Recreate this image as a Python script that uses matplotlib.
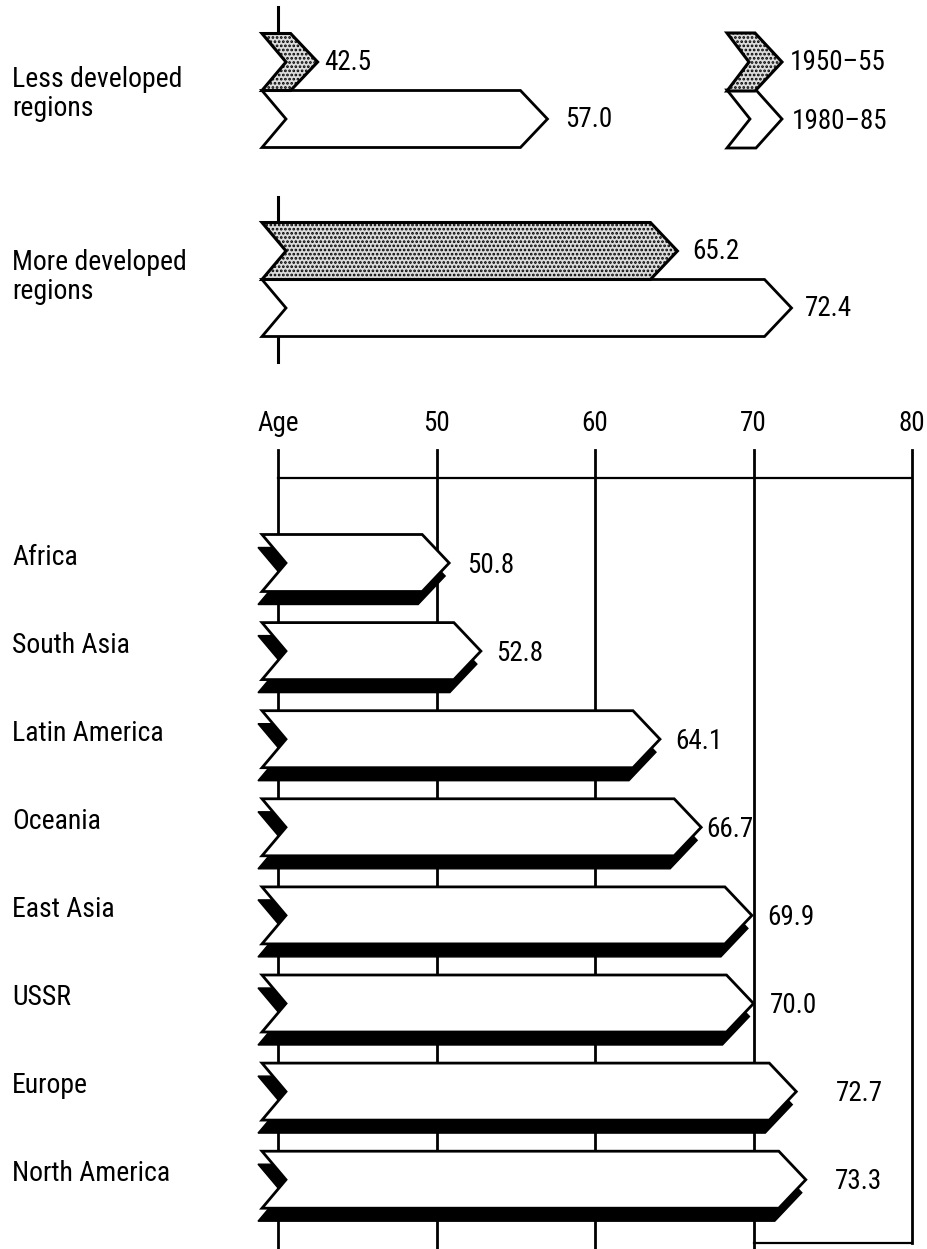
import matplotlib.pyplot as plt
from matplotlib.patches import Polygon

# life expectancy at birth, years
groups = ['Less developed\nregions', 'More developed\nregions']
life_1950 = [42.5, 65.2]
life_1980 = [57.0, 72.4]

regions = ['Africa', 'South Asia', 'Latin America', 'Oceania',
           'East Asia', 'USSR', 'Europe', 'North America']
life_region = [50.8, 52.8, 64.1, 66.7, 69.9, 70.0, 72.7, 73.3]

ticks = [40, 50, 60, 70, 80]
tick_labels = ['Age', '50', '60', '70', '80']
legend_labels = ['1950\u201355', '1980\u201385']

plt.rcParams['font.family'] = ['Roboto Condensed', 'Liberation Sans Narrow', 'Liberation Sans', 'DejaVu Sans']
plt.rcParams['hatch.linewidth'] = 1.3

W, H = 928, 1249
PX = 15.85          # pixels per year
X0 = 278            # pixel position of age 40
fig = plt.figure(figsize=(W / 100, H / 100), dpi=100)
ax = fig.add_axes([0, 0, 1, 1])
ax.set_xlim(40 - X0 / PX, 40 + (W - X0) / PX)
ax.set_ylim(H, 0)
ax.axis('off')


def px(n):
    return n / PX


def chevron(x0, x1, yc, h, head=px(27), notch=px(24)):
    return [(x0, yc - h / 2), (x1 - head, yc - h / 2), (x1, yc),
            (x1 - head, yc + h / 2), (x0, yc + h / 2), (x0 + notch, yc)]


LEFT = 40 - px(16)
BAR_H = 57
FS = 19.5
stipple = dict(facecolor='#dcdcdc', edgecolor='black', hatch='....', lw=2.2, joinstyle='miter')
plain = dict(facecolor='white', edgecolor='black', lw=2.0, joinstyle='miter')

# upper panel: two periods per group
top_centers = [62, 251]
axis_stubs = [[(7, 33)], [(197, 222), (338, 362)]]
label_gap = [[7, 18], [15, 13]]
label_y = [94, 277]
for i, g in enumerate(groups):
    yc = top_centers[i]
    for y0, y1 in axis_stubs[i]:
        ax.plot([40, 40], [y0, y1], color='black', lw=2.2, zorder=1)
    ax.add_patch(Polygon(chevron(LEFT, life_1950[i], yc, BAR_H), closed=True, zorder=3, **stipple))
    ax.add_patch(Polygon(chevron(LEFT, life_1980[i], yc + BAR_H, BAR_H), closed=True, zorder=2, **plain))
    ax.text(life_1950[i] + px(label_gap[i][0]), yc, f'{life_1950[i]:.1f}', fontsize=FS,
            va='center', ha='left')
    ax.text(life_1980[i] + px(label_gap[i][1]), yc + BAR_H, f'{life_1980[i]:.1f}', fontsize=FS,
            va='center', ha='left')
    ax.text(40 - px(266), label_y[i], g, fontsize=FS + 0.5, va='center', ha='left', linespacing=1.08)

# legend
lx0 = 40 + px(727 - X0)
lx1 = 40 + px(782 - X0)
ax.add_patch(Polygon(chevron(lx0, lx1, 62, 58, head=px(27), notch=px(22)), closed=True, zorder=3, **stipple))
ax.add_patch(Polygon(chevron(lx0, lx1, 119, 58, head=px(26), notch=px(23)), closed=True, zorder=2, **plain))
ax.text(lx1 + px(8), 62, legend_labels[0], fontsize=FS, va='center', ha='left')
ax.text(lx1 + px(10), 121, legend_labels[1], fontsize=FS, va='center', ha='left')

# lower panel: grid frame
GRID_TOP, FRAME_TOP, FRAME_BOT = 450, 478, 1243
for t, lab in zip(ticks, tick_labels):
    bottom = FRAME_BOT if t == 80 else H
    ax.plot([t, t], [GRID_TOP, bottom], color='black', lw=2.0, zorder=1)
    ax.text(t, 423, lab, fontsize=FS, ha='center', va='center')
ax.plot([40, 80], [FRAME_TOP, FRAME_TOP], color='black', lw=1.6, zorder=1)
ax.plot([70, 80], [FRAME_BOT, FRAME_BOT], color='black', lw=1.6, zorder=1)

# region bars with drop shadow
value_gap = [18, 15, 15, 5, 15, 16, 40, 29]
dx, dy = px(-4), 13
for i, (r, v) in enumerate(zip(regions, life_region)):
    yc = 563 + i * 88.1
    shade = [(x + dx, y + dy) for x, y in chevron(LEFT, v, yc, BAR_H)]
    ax.add_patch(Polygon(shade, closed=True, facecolor='black', edgecolor='black', lw=1, zorder=2))
    ax.add_patch(Polygon(chevron(LEFT, v, yc, BAR_H), closed=True, zorder=3, **plain))
    ax.text(v + px(value_gap[i]), yc + 2, f'{v:.1f}', fontsize=FS, va='center', ha='left', zorder=4)
    ax.text(40 - px(266), yc - 6, r, fontsize=FS + 0.5, va='center', ha='left')

fig.savefig('out.png', dpi=100, facecolor='white')
